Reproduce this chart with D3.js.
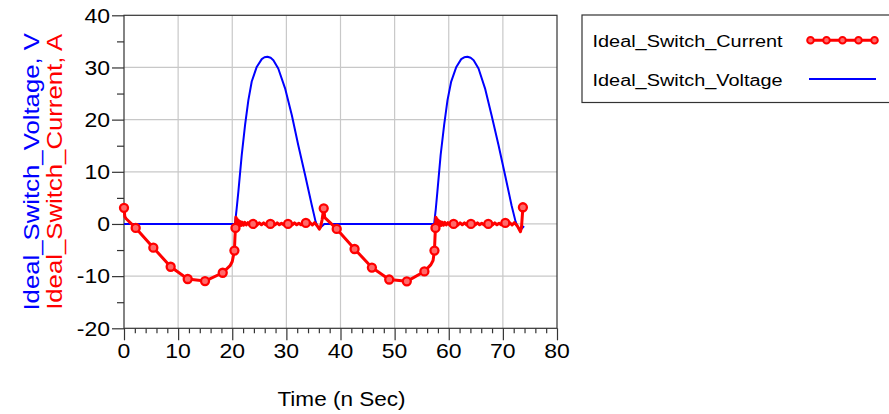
<!DOCTYPE html>
<html>
<head>
<meta charset="utf-8">
<script src="https://cdn.jsdelivr.net/npm/d3@7"></script>
<style>
  html, body { margin: 0; padding: 0; background: #fff; }
  svg { display: block; }
  text { font-family: "Liberation Sans", Arial, sans-serif; }
</style>
</head>
<body>
<svg id="chart" width="889" height="414"></svg>
<script>
// ---------------- DATA ----------------
const xTickValues = [0, 10, 20, 30, 40, 50, 60, 70, 80];
const yTickValues = [-20, -10, 0, 10, 20, 30, 40];
const xLabel = "Time (n Sec)";
const yLabelVoltage = "Ideal_Switch_Voltage, V";
const yLabelCurrent = "Ideal_Switch_Current, A";
const seriesNames = ["Ideal_Switch_Current", "Ideal_Switch_Voltage"];

// Ideal_Switch_Voltage [time ns, volts]
const voltagePoints = [
  [0, 0], [20.5, 0], [20.8, 2.8], [21.13, 6.2], [21.75, 13.2], [22.37, 19.0], [22.98, 23.75],
  [23.6, 27.3], [24.52, 30.1], [25.45, 31.6], [25.95, 31.95], [26.5, 32.05], [27.1, 31.85],
  [27.6, 31.4], [28.5, 29.8], [29.76, 26.0], [31.0, 20.9], [32.2, 15.1], [33.46, 9.4],
  [34.7, 3.6], [35.4, 0.45], [35.75, -0.5], [36.05, -0.9], [36.5, -0.5], [37.0, 0],
  [57.3, 0], [57.6, 2.8], [57.9, 6.2], [58.5, 13.2], [59.15, 19.0], [59.77, 23.75],
  [60.45, 27.3], [61.4, 30.1], [62.3, 31.6], [62.85, 31.95], [63.45, 32.05], [64.05, 31.85],
  [64.6, 31.4], [65.5, 29.8], [66.7, 26.0], [67.9, 20.9], [69.2, 15.1], [70.4, 9.4],
  [71.6, 3.6], [72.35, 0.45], [72.7, -0.5], [73.1, -1.1], [73.5, -0.9], [73.9, -0.4]
];

// Ideal_Switch_Current [time ns, amps]
const currentPoints = [
  [0, 3.1], [0.15, 1.4], [0.4, 1.0], [2.16, -0.75], [5.42, -4.55], [8.62, -8.2], [11.77, -10.55],
  [14.97, -10.95], [18.24, -9.35], [19.6, -8.0], [20.0, -7.2], [20.4, -5.1], [20.5, -2.5],
  [20.6, -0.75], [20.68, 1.3], [20.78, -0.5], [20.88, 1.0], [20.98, -0.4], [21.1, 0.7],
  [21.25, -0.3], [21.4, 0.5], [21.6, -0.3], [21.8, 0.35], [22.05, -0.25], [22.3, 0.3],
  [22.6, -0.2], [22.9, 0.25], [23.2, -0.2], [23.5, 0.2], [23.85, 0], [24.2, 0.2], [24.6, -0.2],
  [25.0, 0.2], [25.4, -0.15], [25.8, 0.2], [26.2, -0.15], [26.6, 0.15], [27.05, 0], [27.5, 0.2],
  [27.9, -0.15], [28.3, 0.2], [28.7, -0.15], [29.1, 0.15], [29.5, -0.15], [29.9, 0.15], [30.3, 0],
  [30.7, 0.2], [31.1, -0.15], [31.5, 0.2], [31.9, -0.15], [32.3, 0.15], [32.7, -0.15], [33.1, 0.2],
  [33.6, 0.2], [34.0, -0.15], [34.4, 0.2], [34.8, -0.2], [35.2, 0.25], [35.5, -0.1], [35.8, -0.5],
  [36.1, -1.0], [36.3, -0.6], [36.6, 0.8], [36.9, 3.0], [37.1, 1.2], [39.3, -0.95],
  [42.6, -4.8], [45.8, -8.35], [49.0, -10.65], [52.25, -11.0], [55.5, -9.1], [56.7, -7.8],
  [57.1, -7.0], [57.36, -5.1], [57.46, -2.5], [57.55, -0.75], [57.63, 1.3], [57.73, -0.5],
  [57.83, 1.0], [57.93, -0.4], [58.05, 0.7], [58.2, -0.3], [58.35, 0.5], [58.55, -0.3],
  [58.75, 0.35], [59.0, -0.25], [59.25, 0.3], [59.55, -0.2], [59.85, 0.25], [60.15, -0.2],
  [60.5, 0.2], [60.9, 0], [61.3, 0.2], [61.7, -0.2], [62.1, 0.2], [62.5, -0.15], [62.9, 0.2],
  [63.3, -0.15], [63.7, 0.15], [64.1, 0], [64.5, 0.2], [64.9, -0.15], [65.3, 0.2], [65.7, -0.15],
  [66.1, 0.15], [66.5, -0.15], [66.9, 0.15], [67.3, 0], [67.7, 0.2], [68.1, -0.15], [68.5, 0.2],
  [68.9, -0.15], [69.3, 0.15], [69.7, -0.15], [70.1, 0.2], [70.45, 0.2], [70.9, -0.15],
  [71.3, 0.2], [71.7, -0.2], [72.1, 0.25], [72.45, -0.1], [72.75, -0.5], [73.05, -1.1],
  [73.25, -1.5], [73.45, -0.5], [73.7, 3.2]
];

// marker positions on the current trace
const currentMarkers = [
  [0, 3.1], [2.16, -0.75], [5.42, -4.55], [8.62, -8.2], [11.77, -10.55], [14.97, -10.95],
  [18.24, -9.35], [20.4, -5.1], [20.6, -0.75], [23.85, 0], [27.05, 0], [30.3, 0], [33.6, 0.2],
  [36.9, 3.0], [39.3, -0.95], [42.6, -4.8], [45.8, -8.35], [49.0, -10.65], [52.25, -11.0],
  [55.5, -9.1], [57.36, -5.1], [57.55, -0.75], [60.9, 0], [64.1, 0], [67.3, 0], [70.45, 0.2],
  [73.7, 3.2]
];

// ---------------- LAYOUT ----------------
const plot = { left: 124, right: 557, top: 15.3, bottom: 328.3 };
const STRETCH = 1.15;
const axisColor = "#333";
const gridColor = "#c8c8c8";
const RED = "#ff0000";
const BLUE = "#0000ff";

const svg = d3.select("#chart");
const x = d3.scaleLinear().domain([0, 80]).range([plot.left, plot.right]);
const y = d3.scaleLinear().domain([-20, 40]).range([plot.bottom, plot.top]);

// gridlines
const grid = svg.append("g");
grid.selectAll("line.gx").data(xTickValues.filter(v => v > 0 && v < 80)).join("line")
  .attr("x1", d => x(d)).attr("x2", d => x(d))
  .attr("y1", plot.top).attr("y2", plot.bottom)
  .attr("stroke", gridColor).attr("stroke-width", 1.2);
grid.selectAll("line.gy").data(yTickValues.filter(v => v > -20 && v < 40)).join("line")
  .attr("y1", d => y(d)).attr("y2", d => y(d))
  .attr("x1", plot.left).attr("x2", plot.right)
  .attr("stroke", gridColor).attr("stroke-width", 1.2);

// axes (major + minor ticks)
const yMinor = d3.range(-15, 40, 10);
const xMinor = d3.range(0, 81, 2).filter(v => v % 10 !== 0);

function styleAxis(g) {
  g.select(".domain").remove();
  g.selectAll("line").attr("stroke", axisColor).attr("stroke-width", 1.2);
  g.selectAll("text").remove();
}
svg.append("g").attr("transform", `translate(${plot.left},0)`)
  .call(d3.axisLeft(y).tickValues(yTickValues).tickSize(12)).call(styleAxis);
svg.append("g").attr("transform", `translate(${plot.left},0)`)
  .call(d3.axisLeft(y).tickValues(yMinor).tickSize(7)).call(styleAxis);
svg.append("g").attr("transform", `translate(0,${plot.bottom})`)
  .call(d3.axisBottom(x).tickValues(xTickValues).tickSize(12)).call(styleAxis);
svg.append("g").attr("transform", `translate(0,${plot.bottom})`)
  .call(d3.axisBottom(x).tickValues(xMinor).tickSize(5)).call(styleAxis);

// frame
svg.append("rect")
  .attr("x", plot.left).attr("y", plot.top)
  .attr("width", plot.right - plot.left).attr("height", plot.bottom - plot.top)
  .attr("fill", "none").attr("stroke", axisColor).attr("stroke-width", 1.2);

// tick labels
svg.append("g").selectAll("text").data(yTickValues).join("text")
  .attr("transform", d => `translate(${plot.left - 14},${y(d) + 7.2}) scale(${STRETCH},1)`)
  .attr("text-anchor", "end").attr("font-size", 20).attr("fill", "#000")
  .text(d => d);
svg.append("g").selectAll("text").data(xTickValues).join("text")
  .attr("transform", d => `translate(${x(d)},${plot.bottom + 30}) scale(${STRETCH},1)`)
  .attr("text-anchor", "middle").attr("font-size", 20).attr("fill", "#000")
  .text(d => d);

// axis titles
svg.append("text")
  .attr("transform", `translate(${(plot.left + plot.right) / 2 + 1},406) scale(1.1,1)`)
  .attr("text-anchor", "middle").attr("font-size", 20.5).attr("fill", "#000")
  .text(xLabel);
const yMid = (plot.top + plot.bottom) / 2;
svg.append("text")
  .attr("transform", `translate(39,${yMid}) rotate(-90) scale(1.17,1)`)
  .attr("text-anchor", "middle").attr("font-size", 22).attr("fill", BLUE)
  .text(yLabelVoltage);
svg.append("text")
  .attr("transform", `translate(61.5,${yMid}) rotate(-90) scale(1.17,1)`)
  .attr("text-anchor", "middle").attr("font-size", 22).attr("fill", RED)
  .text(yLabelCurrent);

// series
const line = d3.line().x(d => x(d[0])).y(d => y(d[1]));
svg.append("path").datum(voltagePoints)
  .attr("d", line).attr("fill", "none")
  .attr("stroke", BLUE).attr("stroke-width", 2).attr("stroke-linejoin", "round");
svg.append("path").datum(currentPoints)
  .attr("d", line).attr("fill", "none")
  .attr("stroke", RED).attr("stroke-width", 3).attr("stroke-linejoin", "round");
svg.append("g").selectAll("circle").data(currentMarkers).join("circle")
  .attr("cx", d => x(d[0])).attr("cy", d => y(d[1])).attr("r", 4)
  .attr("fill", "#ff6a6a").attr("stroke", RED).attr("stroke-width", 2.3);

// legend
const lg = svg.append("g");
lg.append("rect").attr("x", 582).attr("y", 15).attr("width", 330).attr("height", 87.5)
  .attr("fill", "#fff").attr("stroke", axisColor).attr("stroke-width", 1.2);
const legendRows = [
  { name: seriesNames[0], color: RED, width: 3, markers: true, y: 47.3 },
  { name: seriesNames[1], color: BLUE, width: 2, markers: false, y: 86 }
];
legendRows.forEach(r => {
  lg.append("text")
    .attr("transform", `translate(592.5,${r.y}) scale(${STRETCH},1)`)
    .attr("font-size", 17.3).attr("fill", "#000").text(r.name);
  const ly = r.y - 7;
  lg.append("line").attr("x1", 809).attr("x2", 876).attr("y1", ly).attr("y2", ly)
    .attr("stroke", r.color).attr("stroke-width", r.width);
  if (r.markers) {
    lg.selectAll(null).data(d3.range(5)).join("circle")
      .attr("cx", i => 810.5 + i * 16).attr("cy", ly).attr("r", 3.3)
      .attr("fill", "#ff6a6a").attr("stroke", RED).attr("stroke-width", 2);
  }
});
</script>
</body>
</html>
